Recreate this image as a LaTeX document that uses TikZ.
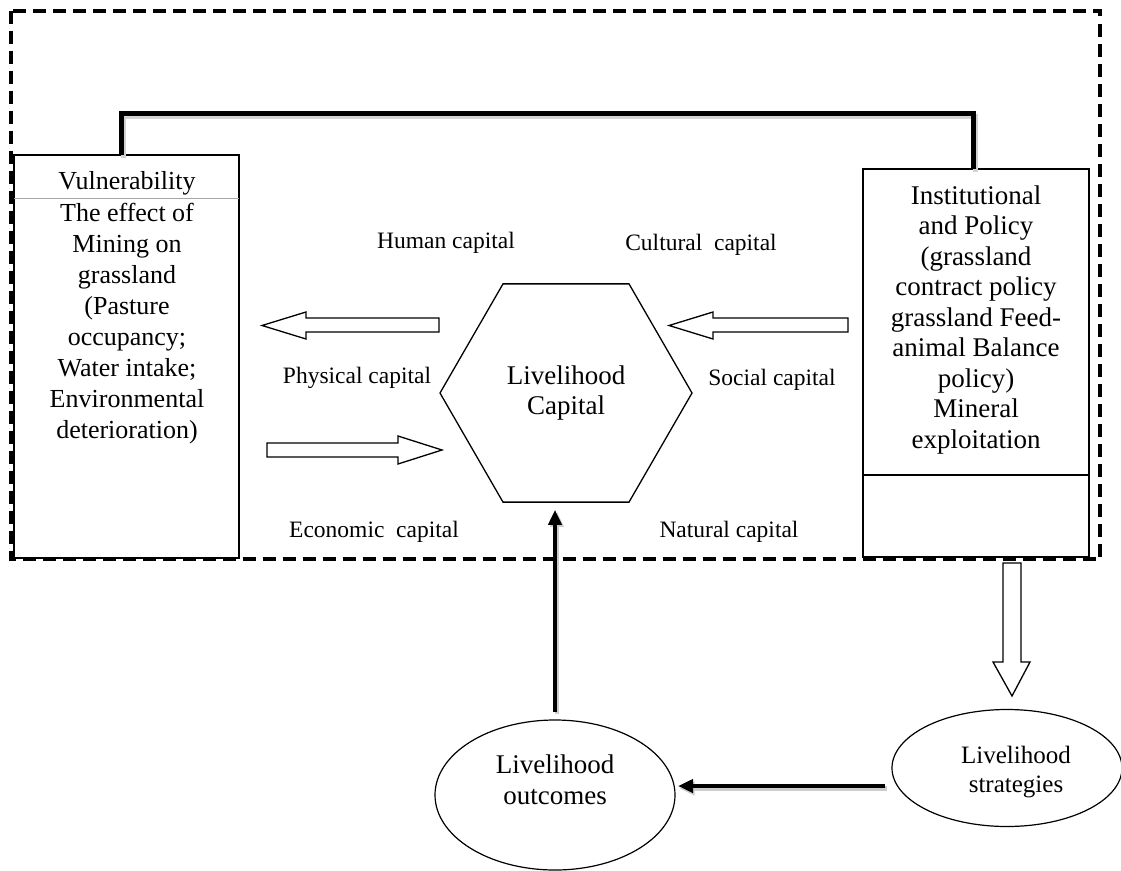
\documentclass[tikz,border=0pt]{standalone}
\usepackage{fontspec}
\setmainfont{Liberation Serif}
\usetikzlibrary{shapes.geometric,arrows.meta}
\begin{document}
\begin{tikzpicture}[x=1pt,y=-1pt,
  lbl/.style={font=\fontsize{23.5}{28}\selectfont, anchor=base, inner sep=0pt},
  boxtxt/.style={font=\fontsize{26}{31}\selectfont, anchor=base, inner sep=0pt},
  insttxt/.style={font=\fontsize{27}{30.5}\selectfont, anchor=base, inner sep=0pt},
  panel/.style={draw, line width=1.3pt, anchor=north west, inner sep=0pt, outer sep=0pt},
  oval/.style={draw, ellipse, line width=1.2pt, inner sep=0pt},
  blockarrow/.style={draw, line width=1.3pt, fill=white, line join=miter},
  bigarr/.style={line width=4.5pt, -{Triangle[length=15pt,width=13pt]}},
  bigshadow/.style={line width=4.5pt, draw=gray!40, -{Triangle[length=15pt,width=13pt]}},
  linkline/.style={line width=5pt, line join=miter},
  linkshadow/.style={line width=5pt, draw=gray!35, line join=miter}
]
\useasboundingbox (0,0) rectangle (1121,870);

% dashed frame
\draw[line width=4pt, dash pattern=on 13pt off 7pt] (11,10.5) rectangle (1100,559);

% panels
\node[panel, minimum width=225pt, minimum height=403pt] (vul) at (14,155) {};
\draw[gray!70, line width=1pt] (vul.west |- 0,198) -- (vul.east |- 0,198);
\node[panel, minimum width=226pt, minimum height=388pt] (inst) at (863,169) {};
\draw[line width=1.3pt] (inst.west |- 0,475) -- (inst.east |- 0,475);

\node[boxtxt] (vultitle) at (127,189) {Vulnerability};
\node[boxtxt] (vulbody) at (127,221) {\begin{tabular}[t]{@{}c@{}}The effect of\\Mining on\\grassland\\(Pasture\\occupancy;\\Water intake;\\Environmental\\deterioration)\end{tabular}};
\node[insttxt] (insttext) at (976,204) {\begin{tabular}[t]{@{}c@{}}Institutional\\and Policy\\(grassland\\contract policy\\grassland Feed-\\animal Balance\\policy)\\Mineral\\exploitation\end{tabular}};

% link between panels
\coordinate (c1) at (121.5,155);
\coordinate (c2) at (973.5,169);
\draw[linkshadow] ([xshift=2pt,yshift=-3pt]c1) -- ++(0,-41.5) -| ([xshift=2pt,yshift=-3pt]c2);
\draw[linkline] (c1) -- ++(0,-41.5) -| (c2);

% hexagon
\node[draw, regular polygon, regular polygon sides=6, minimum size=252pt, line width=1.3pt,
      inner sep=0pt, align=center, font=\fontsize{27}{30}\selectfont] (hex) at (566,393) {Livelihood\\Capital};

% capital labels
\node[lbl] (human) at (446,248) {Human capital};
\node[lbl] (cultural) at (701,250) {Cultural\ \ capital};
\node[lbl] (physical) at (357,383) {Physical capital};
\node[lbl] (social) at (772,385) {Social capital};
\node[lbl] (economic) at (374,537) {Economic\ \ capital};
\node[lbl] (natural) at (729,537) {Natural capital};

% block arrows
\draw[blockarrow] (439,318) -- (306,318) -- (306,312) -- (262,325.5) -- (306,339) -- (306,332) -- (439,332) -- cycle;
\draw[blockarrow] (267,443) -- (398,443) -- (398,436) -- (442,450) -- (398,464) -- (398,457) -- (267,457) -- cycle;
\draw[blockarrow] (848,318) -- (713,318) -- (713,312) -- (669,325.5) -- (713,339) -- (713,332) -- (848,332) -- cycle;
\draw[blockarrow] (1003,563) -- (1003,662) -- (993,662) -- (1012,696) -- (1030,662) -- (1021,662) -- (1021,563) -- cycle;

% ovals
\node[oval, minimum width=240pt, minimum height=150pt] (outcomes) at (555,795) {};
\node[boxtxt, font=\fontsize{27}{31}\selectfont] (outtext) at (555,773) {\begin{tabular}[t]{@{}c@{}}Livelihood\\outcomes\end{tabular}};
\node[oval, minimum width=230pt, minimum height=117pt] (strat) at (1007,768) {};
\node[boxtxt, font=\fontsize{25}{29}\selectfont] (strattext) at (1016,763) {\begin{tabular}[t]{@{}c@{}}Livelihood\\strategies\end{tabular}};

% thick arrows
\coordinate (h1) at (885,786);
\coordinate (h2) at (678,786);
\draw[bigshadow] ([xshift=1.5pt,yshift=-2.5pt]h1) -- ([xshift=1.5pt,yshift=-2.5pt]h2);
\draw[bigarr] (h1) -- (h2);
\coordinate (v1) at ([yshift=7pt]outcomes.north);
\coordinate (v2) at ([yshift=-7pt]outcomes.north |- hex.south);
\draw[bigshadow] ([xshift=2pt,yshift=-2pt]v1) -- ([xshift=2pt,yshift=-2pt]v2);
\draw[bigarr] (v1) -- (v2);
\end{tikzpicture}
\end{document}
